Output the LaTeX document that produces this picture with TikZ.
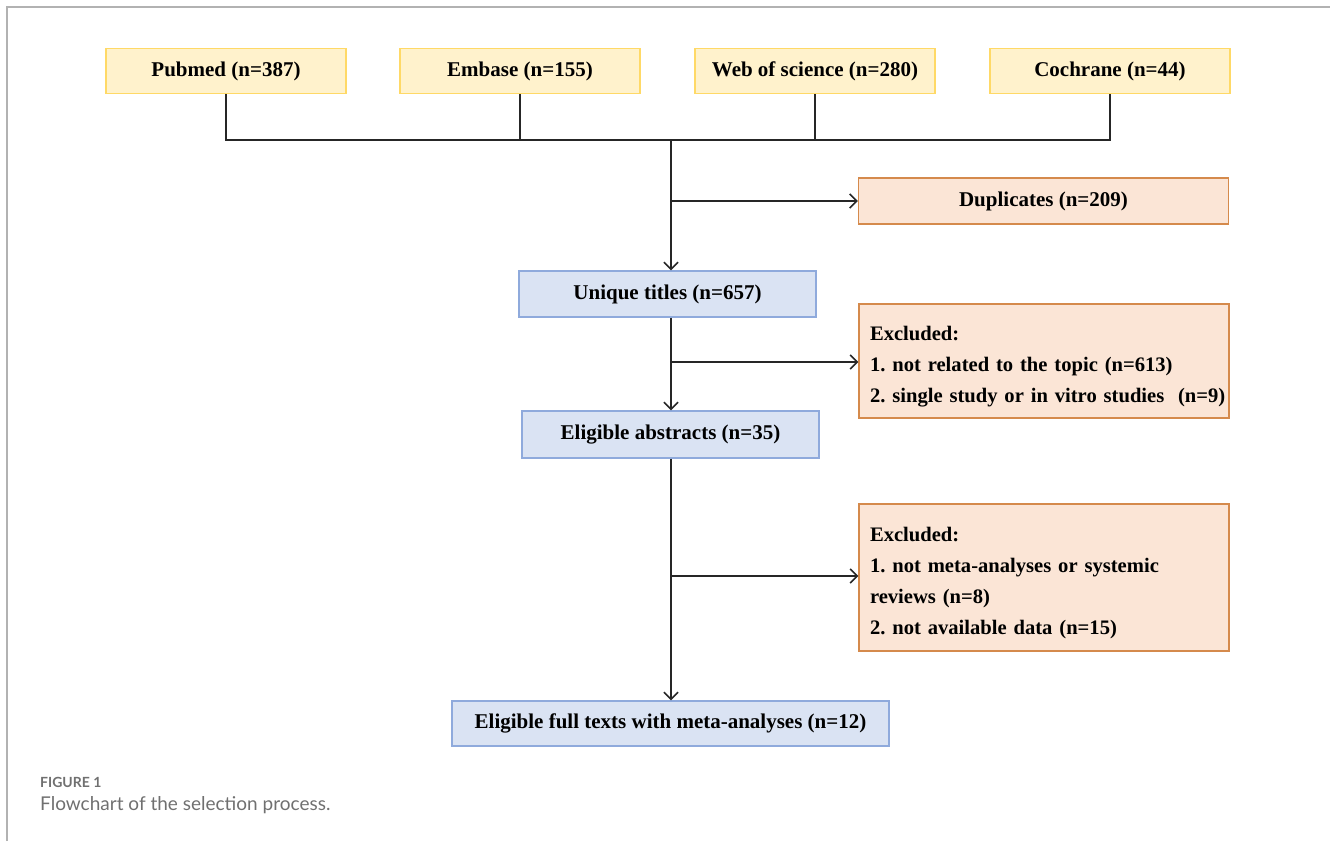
\documentclass[tikz,border=0pt]{standalone}
\usepackage{fontspec}
\setmainfont{Liberation Serif}
\newfontfamily\capfont{Lato}
\usetikzlibrary{arrows.meta,calc}
\definecolor{srcfill}{HTML}{FFF2CC}
\definecolor{srcdraw}{HTML}{FFD966}
\definecolor{exfill}{HTML}{FBE5D6}
\definecolor{exdraw}{HTML}{D58A4C}
\definecolor{keepfill}{HTML}{DAE3F3}
\definecolor{keepdraw}{HTML}{8FAADC}
\definecolor{capgray}{HTML}{707070}
\frenchspacing
\newcommand{\exindent}{\hspace*{9pt}}
\newcommand{\extop}{\rule{0pt}{25pt}}

\begin{document}
\begin{tikzpicture}[x=1pt,y=-1pt,
  box/.style={font=\bfseries\fontsize{21}{30.5}\selectfont,line width=1.4pt,inner sep=0pt,align=center},
  srcbox/.style={box,fill=srcfill,draw=srcdraw,minimum width=240,minimum height=45},
  keepbox/.style={box,fill=keepfill,draw=keepdraw,minimum height=46},
  exbox/.style={box,fill=exfill,draw=exdraw,minimum width=370},
  exlist/.style={exbox,font=\bfseries\fontsize{20.6}{30.8}\selectfont,align=left,text width=366,inner xsep=2},
  link/.style={line width=1.6pt,black!85},
  arr/.style={link,-{Straight Barb[length=7pt,width=14pt,line width=1.6pt]}}]
	\useasboundingbox (0,0) rectangle (1330,841);
	% cadre
	\draw [line width=2pt,black!30] (7,841) -- (7,7) -- (1330,7);

	% Bases
	\node [srcbox] (pubmed) at (226,71) {Pubmed (n=387)};
	\node [srcbox] (embase) at (520,71) {Embase (n=155)};
	\node [srcbox] (wos) at (815,71) {Web of science (n=280)};
	\node [srcbox] (cochrane) at (1110,71) {Cochrane (n=44)};

	% Etapes
	\node [keepbox,minimum width=297] (unique) at (667.5,294) {Unique titles (n=657)};
	\node [keepbox,minimum width=297,minimum height=47] (abstracts) at (670.5,434.5) {Eligible abstracts (n=35)};
	\node [keepbox,minimum width=437,minimum height=45] (fulltexts) at (670.5,723.5) {Eligible full texts with meta-analyses (n=12)};

	% Exclusions
	\node [exbox,minimum height=46] (dup) at (1043.5,201) {Duplicates (n=209)};
	\node [exlist,minimum height=114] (excl1) at (1044,361) {\exindent\extop Excluded:\\\exindent 1. not related to the topic (n=613)\\\exindent 2. single study or in vitro studies~ (n=9)};
	\node [exlist,minimum height=147] (excl2) at (1044,577.5) {\exindent\extop Excluded:\\\exindent 1. not meta-analyses or systemic\\\exindent reviews (n=8)\\\exindent 2. not available data (n=15)};

	% Fusion
	\coordinate (jl) at (226,140);
	\coordinate (jr) at (1110,140);
	\coordinate (jm) at (671,140);
	\draw [link] (pubmed.south) -- (jl) -- (jr) -- (cochrane.south);
	\draw [link] (embase.south) -- (embase.south |- jl);
	\draw [link] (wos.south) -- (wos.south |- jl);

	% Flèches
	\coordinate (b1) at (671,201);
	\coordinate (b2) at (671,362);
	\coordinate (b3) at (671,576);
	\draw [arr] (jm) -- (jm |- unique.north);
	\draw [arr] (b1) -- (b1 -| dup.west);
	\draw [arr] (b2 |- unique.south) -- (b2 |- abstracts.north);
	\draw [arr] (b2) -- (b2 -| excl1.west);
	\draw [arr] (b3 |- abstracts.south) -- (b3 |- fulltexts.north);
	\draw [arr] (b3) -- (b3 -| excl2.west);

	% Légende
	\node [anchor=base west,font=\capfont\bfseries\fontsize{14}{16}\selectfont,text=capgray,inner sep=0pt] (figlab) at (40,787) {FIGURE 1};
	\node [anchor=base west,font=\capfont\fontsize{19}{22}\selectfont,text=capgray,inner sep=0pt] (figcap) at (40,810) {Flowchart of the selection process.};
\end{tikzpicture}
\end{document}
